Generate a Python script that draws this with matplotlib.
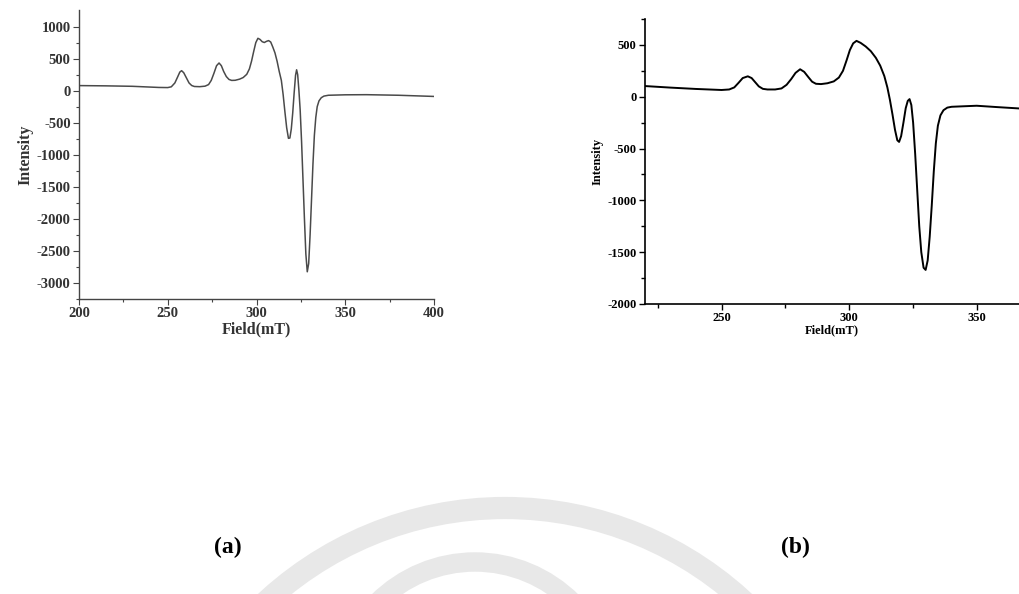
import matplotlib
matplotlib.use("Agg")
import matplotlib.pyplot as plt
from matplotlib.patches import Arc

plt.rcParams['font.family'] = ['Liberation Serif', 'DejaVu Serif']
plt.rcParams['font.weight'] = 'bold'
plt.rcParams['axes.unicode_minus'] = False

# ---- Data: panel (a) ----
field_a = [200, 215, 230, 245, 250, 252, 254, 255.5, 256.8, 257.8, 259, 260.5, 262, 263.5,
           265, 268, 271, 273, 274.5, 276, 277.5, 278.9, 280.2, 281.5, 283, 284.5, 286,
           288, 290.5, 292.5, 294.5, 296, 297.2, 298.4, 299.6, 300.8, 302, 303.2, 304.4,
           305.6, 306.8, 308, 309.2, 310.4, 311.6, 312.8, 314, 315, 316, 317, 318, 318.8,
           319.6, 320.4, 321.2, 322, 322.6, 323.2, 323.9, 324.6, 325.4, 326.2, 327, 327.8,
           328.6, 329.4, 330.2, 331, 331.8, 332.6, 333.4, 334.2, 335.2, 336.5, 338, 340.5,
           350, 362, 380, 399.6]
intensity_a = [79, 75, 68, 50, 48, 60, 120, 210, 290, 312, 280, 200, 120, 80,
               65, 62, 70, 95, 160, 270, 390, 432, 390, 300, 220, 175, 160,
               162, 180, 205, 255, 340, 460, 610, 750, 818, 800, 765, 752,
               770, 782, 760, 680, 590, 460, 300, 160, -60, -330, -580, -745, -740,
               -600, -350, -40, 240, 326, 250, 0, -300, -800, -1400, -2000, -2550,
               -2830, -2700, -2250, -1700, -1150, -700, -420, -250, -160, -110, -85, -72,
               -65, -63, -72, -90]

# ---- Data: panel (b) ----
field_b = [220, 230, 240, 250, 253, 255, 256.7, 258.3, 260.3, 261.8, 263.2, 264.6, 266.2,
           268, 271, 273.5, 275.5, 277.3, 279, 280.8, 282.4, 284, 285.5, 287, 289, 291.5,
           294, 296, 297.6, 299, 300.3, 301.6, 302.9, 304.5, 306.5, 308.5, 310.5, 312.2,
           313.8, 315, 316, 317, 318, 318.9, 319.6, 320.4, 321.3, 322.2, 323, 323.7, 324.4,
           325.1, 325.9, 326.7, 327.5, 328.3, 329.2, 330, 330.8, 331.6, 332.4, 333.2, 334,
           334.8, 335.8, 337, 338.5, 340.2, 345, 350, 358, 366.6]
intensity_b = [103, 88, 75, 65, 70, 90, 135, 180, 197, 180, 140, 100, 76,
               70, 70, 80, 115, 170, 230, 265, 240, 190, 145, 125, 122, 130,
               148, 185, 250, 350, 450, 515, 539, 520, 485, 440, 375, 300,
               200, 90, -30, -170, -320, -420, -436, -380, -250, -110, -40, -23, -80,
               -250, -550, -900, -1250, -1500, -1650, -1671, -1580, -1350, -1050, -720, -450,
               -280, -180, -130, -105, -97, -92, -87, -100, -113]

xticks_a = [200, 250, 300, 350, 400]
yticks_a = [1000, 500, 0, -500, -1000, -1500, -2000, -2500, -3000]
xticks_b = [250, 300, 350]
yticks_b = [500, 0, -500, -1000, -1500, -2000]

W, H = 1019, 594
fig = plt.figure(figsize=(W / 100, H / 100), dpi=100)

# faint watermark arcs
bg = fig.add_axes([0, 0, 1, 1], zorder=-5)
bg.set_xlim(0, W)
bg.set_ylim(H, 0)
bg.axis('off')
bg.add_patch(Arc((505, 860), 2 * 352, 2 * 352, theta1=180, theta2=360,
                 color='#e8e8e8', lw=16))
bg.add_patch(Arc((475, 700), 2 * 138, 2 * 138, theta1=180, theta2=360,
                 color='#e8e8e8', lw=14))


def px_axes(l, t, r, b):
    return fig.add_axes([l / W, 1 - b / H, (r - l) / W, (b - t) / H])


# ---- Panel (a) ----
ax1 = px_axes(79, 10, 434, 299)
ax1.plot(field_a, intensity_a, color='#4a4a4a', lw=1.1)
ax1.set_xlim(200, 400)
ax1.set_ylim(-3255, 1260)
ax1.set_xticks(xticks_a)
ax1.set_yticks(yticks_a)
ax1.set_xticks([225, 275, 325, 375], minor=True)
ax1.set_yticks([750, 250, -250, -750, -1250, -1750, -2250, -2750, -3250], minor=True)
for s in ['top', 'right']:
    ax1.spines[s].set_visible(False)
for s in ['left', 'bottom']:
    ax1.spines[s].set_color('#444444')
    ax1.spines[s].set_linewidth(1.0)
ax1.tick_params(which='major', length=4, width=0.8, color='#444444', labelsize=10.5, pad=2)
ax1.tick_params(which='minor', length=2.5, width=0.8, color='#444444')
for lab in ax1.get_xticklabels() + ax1.get_yticklabels():
    lab.set_fontweight('bold')
    lab.set_color('#333333')
ax1.set_xlabel('Field(mT)', fontsize=11.5, fontweight='bold', color='#333333', labelpad=1)
ax1.set_ylabel('Intensity', fontsize=11.5, fontweight='bold', color='#333333', labelpad=2)

# ---- Panel (b) ----
ax2 = px_axes(645, 19, 1019, 304)
ax2.plot(field_b, intensity_b, color='black', lw=1.4)
ax2.set_xlim(220, 366.6)
ax2.set_ylim(-2000, 750)
ax2.set_xticks(xticks_b)
ax2.set_yticks(yticks_b)
ax2.set_xticks([225, 275, 325], minor=True)
ax2.set_yticks([750, 250, -250, -750, -1250, -1750], minor=True)
for s in ['top', 'right']:
    ax2.spines[s].set_visible(False)
for s in ['left', 'bottom']:
    ax2.spines[s].set_linewidth(1.2)
ax2.tick_params(which='major', length=4, width=1.0, labelsize=9, pad=2)
ax2.tick_params(which='minor', length=3, width=1.0)
for lab in ax2.get_xticklabels() + ax2.get_yticklabels():
    lab.set_fontweight('bold')
ax2.set_xlabel('Field(mT)', fontsize=9, fontweight='bold', labelpad=0)
ax2.set_ylabel('Intensity', fontsize=9, fontweight='bold', labelpad=3)

# panel captions
fig.text(228 / W, 1 - 547 / H, '(a)', ha='center', va='center', fontsize=17, fontweight='bold')
fig.text(795 / W, 1 - 547 / H, '(b)', ha='center', va='center', fontsize=17, fontweight='bold')

fig.savefig('out.png', dpi=100)
